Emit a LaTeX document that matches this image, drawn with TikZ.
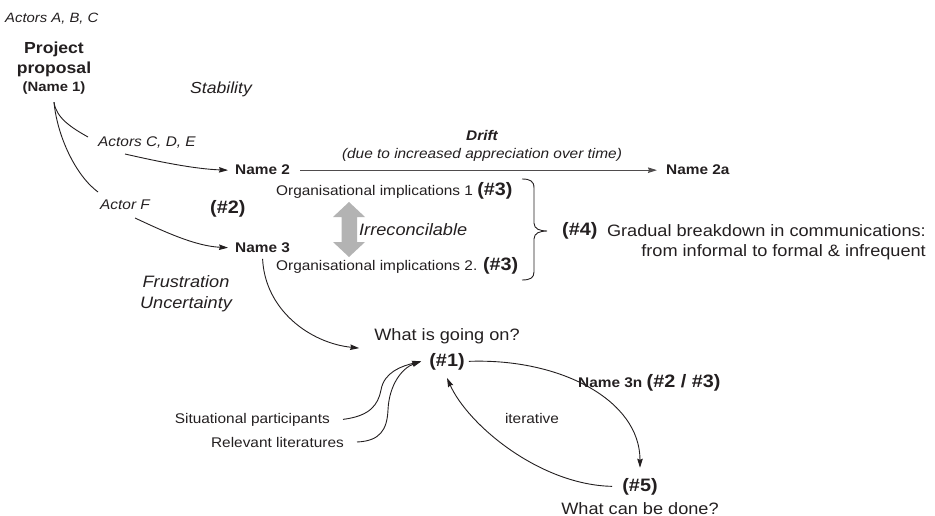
\documentclass[tikz,border=0pt]{standalone}
\usepackage{fontspec}
\setmainfont{Liberation Sans}[FakeStretch=1.1]
\usetikzlibrary{arrows.meta}
\definecolor{ink}{HTML}{231F20}
\definecolor{arrgrey}{HTML}{B3B3B3}
\newcommand\fsS{\fontsize{14}{17}\selectfont}
\newcommand\fsM{\fontsize{13.5}{16}\selectfont}
\newcommand\fsL{\fontsize{16.5}{21}\selectfont}
\newcommand\fsT{\fontsize{18}{21}\selectfont\bfseries}
\begin{document}
\begin{tikzpicture}[x=1pt,y=-1pt,
  every node/.style={inner sep=0pt, text=ink},
  plain/.style={draw=ink, line width=0.9pt},
  conn/.style={plain, -{Stealth[length=9pt,width=5.5pt,inset=1pt]}},
  drifts/.style={draw=ink!80, line width=1.1pt, -{Stealth[length=9pt,width=5.5pt,inset=1pt]}}]
\useasboundingbox (0,0) rectangle (935,516);

% nodes
\node[anchor=base west, font=\fsM\itshape] (aABC) at (5,23) {Actors A, B, C};
\node[anchor=north, align=center, font=\fontsize{16}{20}\selectfont\bfseries] (pp) at (54,41.8)
  {Project\\proposal\\[-2.5pt]{\fsM (Name 1)}};
\node[anchor=base west, font=\fontsize{16}{20}\selectfont\itshape] (stab) at (190,94) {Stability};
\node[anchor=base west, font=\fsS\itshape] (aCDE) at (98,147) {Actors C, D, E};
\node[anchor=base west, font=\fsS\bfseries] (n2) at (235,175) {Name 2};
\node[anchor=base west, font=\fsS\itshape] (aF) at (100,210) {Actor F};
\node[anchor=base west, font=\fsT] (t2) at (210,213) {(\#2)};
\node[anchor=base west, font=\fsS\bfseries] (n3) at (235,252.5) {Name 3};
\node[anchor=north, align=center, font=\fsL\itshape] (fu) at (186,275) {Frustration\\Uncertainty};
\node[anchor=north, align=center, font=\fontsize{14}{18}\selectfont\itshape] (drift) at (482,129.8)
  {{\bfseries Drift}\\(due to increased appreciation over time)};
\node[anchor=base west, font=\fsS\bfseries] (n2a) at (666,175) {Name 2a};
\node[anchor=base west, font=\fsS] (oi1) at (276,195.5) {Organisational implications 1 {\fsT(\#3)}};
\node[anchor=base west, font=\fsS] (oi2) at (276,270.5) {Organisational implications 2. {\fsT(\#3)}};
\node[anchor=base west, font=\fsL\itshape] (irr) at (359,235) {Irreconcilable};
\node[anchor=base west, font=\fsT] (t4) at (562,235) {(\#4)};
\node[anchor=north east, align=right, font=\fontsize{16.5}{20}\selectfont] (grad) at (926,224.5)
  {Gradual breakdown in communications:\\from informal to formal \& infrequent};
\node[anchor=base, font=\fsL] (wgo) at (447,340) {What is going on?};
\node[anchor=base, font=\fsT] (t1) at (447,366) {(\#1)};
\node[anchor=base east, font=\fsS] (sit) at (330,423) {Situational participants};
\node[anchor=base east, font=\fsS] (rel) at (344,447) {Relevant literatures};
\node[anchor=base west, font=\fsS\bfseries] (n3n) at (578,387) {Name 3n {\fsT(\#2 / \#3)}};
\node[anchor=base, font=\fsS] (iter) at (532,423) {iterative};
\node[anchor=base, font=\fsT] (t5) at (640,491) {(\#5)};
\node[anchor=base, font=\fsL] (wcd) at (640,514) {What can be done?};

% free ends of connectors interrupted by labels
\coordinate (k1) at (88,137);
\coordinate (k2) at (125,154);
\coordinate (k3) at (98,192);
\coordinate (k4) at (135,218);

% connectors
\draw[conn] ([yshift=-8pt]pp.south) .. controls (56,118) and (72,128) .. (k1)
  (k2) .. controls (160,162) and (195,169) .. ([xshift=-7pt]n2.west);
\draw[conn] ([yshift=-8pt]pp.south) .. controls (57,135) and (75,175) .. (k3)
  (k4) .. controls (165,232) and (195,246) .. ([xshift=-7pt]n3.west);
\draw[drifts] ([xshift=10pt]n2.east) -- ([xshift=-9pt]n2a.west);
\draw[conn] ([yshift=-6pt]n3.south) .. controls (265,310) and (310,343) .. ([xshift=-15pt,yshift=-4.5pt]wgo.south west);
\draw[conn] ([xshift=13pt]sit.east) .. controls (370,416) and (378,405) .. (381,390)
  .. controls (384,372) and (402,366) .. ([xshift=-8pt]t1.west);
\draw[conn] ([xshift=13pt]rel.east) .. controls (380,441) and (387,430) .. (388,410)
  .. controls (389,385) and (402,368) .. ([xshift=-8pt]t1.west);
\draw[conn] ([xshift=4pt]t1.east) .. controls (560,358) and (640,400) .. ([yshift=10pt]t5.north);
\draw[conn] ([xshift=-10pt]t5.west) .. controls (540,485) and (468,425) .. ([yshift=-8pt]t1.south);

% brace
\draw[plain] (522,179) .. controls (530,179) and (534,181) .. (534,188) -- (534,223)
  .. controls (534,229) and (540,231) .. (547,231)
  .. controls (540,231) and (534,233) .. (534,239) -- (534,272)
  .. controls (534,278) and (530,280) .. (522,280);

% grey double arrow
\fill[arrgrey] (349,202) -- (365,217) -- (357,217) -- (357,242) -- (365,242) -- (349,257)
  -- (333,242) -- (341.5,242) -- (341.5,217) -- (333,217) -- cycle;
\end{tikzpicture}
\end{document}
